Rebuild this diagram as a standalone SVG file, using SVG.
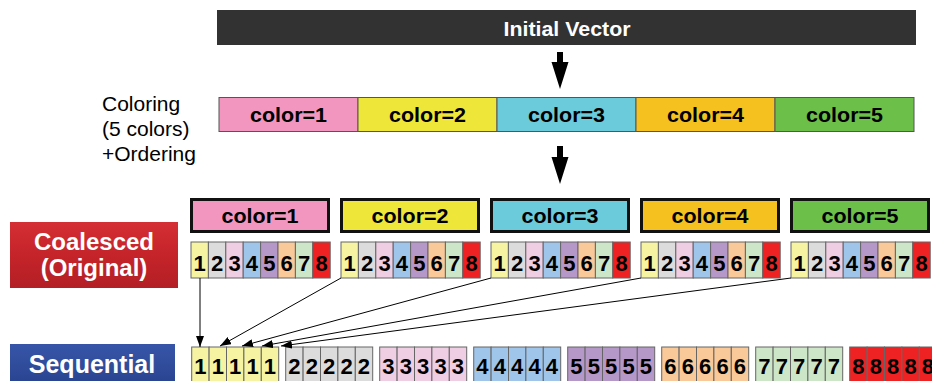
<svg xmlns="http://www.w3.org/2000/svg" width="932" height="381" viewBox="0 0 932 381">
<defs>
<linearGradient id="gRed" x1="0" y1="0" x2="0" y2="1"><stop offset="0" stop-color="#d42f34"/><stop offset="0.5" stop-color="#c4242a"/><stop offset="1" stop-color="#b31f25"/></linearGradient>
<linearGradient id="gBlue" x1="0" y1="0" x2="0" y2="1"><stop offset="0" stop-color="#3755a8"/><stop offset="1" stop-color="#28438f"/></linearGradient>
<marker id="ah" markerUnits="userSpaceOnUse" markerWidth="11" markerHeight="8" refX="11" refY="4" orient="auto"><path d="M0,0 L11,4 L0,8 z" fill="#000"/></marker>
</defs>
<style>
text{font-family:"Liberation Sans",Arial,sans-serif}
.lbl{font-size:20px;font-weight:bold;fill:#000;text-anchor:middle}
.dg{font-size:22px;font-weight:bold;fill:#000;text-anchor:middle}
.cell{stroke:#666;stroke-width:1}
.c1{fill:#f6f3a3}.c2{fill:#dcdcdc}.c3{fill:#efcde3}.c4{fill:#9fc5ea}.c5{fill:#b597c8}.c6{fill:#f9c999}.c7{fill:#cde6c8}.c8{fill:#ee2222}
.seg{stroke:#555;stroke-width:1}
.box{stroke:#111;stroke-width:3}
.conn{stroke:#000;stroke-width:1;fill:none;marker-end:url(#ah)}
.white{fill:#fff;font-weight:bold;text-anchor:middle}
</style>

<g id="initial-vector">
<rect x="217" y="10" width="699" height="35" fill="#323232"/>
<text x="567" y="36" class="white" font-size="21" textLength="127" lengthAdjust="spacingAndGlyphs">Initial Vector</text>
</g>

<g id="coloring-label">
<text x="102" y="111" font-size="21" fill="#000">Coloring</text>
<text x="102" y="136" font-size="21" fill="#000">(5 colors)</text>
<text x="102" y="161" font-size="21" fill="#000">+Ordering</text>
</g>

<g id="color-bar">
<rect class="seg" x="219" y="97.5" width="139" height="34" fill="#f296c0"/>
<rect class="seg" x="358" y="97.5" width="139" height="34" fill="#efe63a"/>
<rect class="seg" x="497" y="97.5" width="139" height="34" fill="#6ccbda"/>
<rect class="seg" x="636" y="97.5" width="139" height="34" fill="#f5c11f"/>
<rect class="seg" x="775" y="97.5" width="139" height="34" fill="#6cbf48"/>
<text class="lbl" x="288.5" y="122" textLength="77" lengthAdjust="spacingAndGlyphs">color=1</text>
<text class="lbl" x="427.5" y="122" textLength="77" lengthAdjust="spacingAndGlyphs">color=2</text>
<text class="lbl" x="566.5" y="122" textLength="77" lengthAdjust="spacingAndGlyphs">color=3</text>
<text class="lbl" x="705.5" y="122" textLength="77" lengthAdjust="spacingAndGlyphs">color=4</text>
<text class="lbl" x="844.5" y="122" textLength="77" lengthAdjust="spacingAndGlyphs">color=5</text>
</g>

<g id="big-arrows">
<polygon points="557,52 563,52 563,62 568.5,62 560,89 551.5,62 557,62" fill="#000"/>
<polygon points="557,146 563,146 563,157 568.5,157 560,184 551.5,157 557,157" fill="#000"/>
</g>

<g id="color-boxes">
<rect class="box" x="191.5" y="199.5" width="137" height="32" fill="#f296c0"/>
<rect class="box" x="341.5" y="199.5" width="137" height="32" fill="#efe63a"/>
<rect class="box" x="491.5" y="199.5" width="137" height="32" fill="#6ccbda"/>
<rect class="box" x="641.5" y="199.5" width="137" height="32" fill="#f5c11f"/>
<rect class="box" x="791.5" y="199.5" width="137" height="32" fill="#6cbf48"/>
<text class="lbl" x="260" y="222.5" textLength="77" lengthAdjust="spacingAndGlyphs">color=1</text>
<text class="lbl" x="410" y="222.5" textLength="77" lengthAdjust="spacingAndGlyphs">color=2</text>
<text class="lbl" x="560" y="222.5" textLength="77" lengthAdjust="spacingAndGlyphs">color=3</text>
<text class="lbl" x="710" y="222.5" textLength="77" lengthAdjust="spacingAndGlyphs">color=4</text>
<text class="lbl" x="860" y="222.5" textLength="77" lengthAdjust="spacingAndGlyphs">color=5</text>
</g>

<g id="coalesced-label">
<rect x="10" y="222" width="168" height="66" fill="url(#gRed)"/>
<text x="94" y="250" class="white" font-size="24">Coalesced</text>
<text x="94" y="276" class="white" font-size="24">(Original)</text>
</g>

<g id="coalesced-group-1" transform="translate(191,0)">
<rect class="cell c1" x="0" y="242" width="17.4" height="36"/><rect class="cell c2" x="17.4" y="242" width="17.4" height="36"/><rect class="cell c3" x="34.8" y="242" width="17.4" height="36"/><rect class="cell c4" x="52.2" y="242" width="17.4" height="36"/><rect class="cell c5" x="69.6" y="242" width="17.4" height="36"/><rect class="cell c6" x="87" y="242" width="17.4" height="36"/><rect class="cell c7" x="104.4" y="242" width="17.4" height="36"/><rect class="cell c8" x="121.8" y="242" width="17.4" height="36"/>
<text class="dg" x="8.7" y="271">1</text><text class="dg" x="26.1" y="271">2</text><text class="dg" x="43.5" y="271">3</text><text class="dg" x="60.9" y="271">4</text><text class="dg" x="78.3" y="271">5</text><text class="dg" x="95.7" y="271">6</text><text class="dg" x="113.1" y="271">7</text><text class="dg" x="130.5" y="271">8</text>
</g>
<g id="coalesced-group-2" transform="translate(341,0)">
<rect class="cell c1" x="0" y="242" width="17.4" height="36"/><rect class="cell c2" x="17.4" y="242" width="17.4" height="36"/><rect class="cell c3" x="34.8" y="242" width="17.4" height="36"/><rect class="cell c4" x="52.2" y="242" width="17.4" height="36"/><rect class="cell c5" x="69.6" y="242" width="17.4" height="36"/><rect class="cell c6" x="87" y="242" width="17.4" height="36"/><rect class="cell c7" x="104.4" y="242" width="17.4" height="36"/><rect class="cell c8" x="121.8" y="242" width="17.4" height="36"/>
<text class="dg" x="8.7" y="271">1</text><text class="dg" x="26.1" y="271">2</text><text class="dg" x="43.5" y="271">3</text><text class="dg" x="60.9" y="271">4</text><text class="dg" x="78.3" y="271">5</text><text class="dg" x="95.7" y="271">6</text><text class="dg" x="113.1" y="271">7</text><text class="dg" x="130.5" y="271">8</text>
</g>
<g id="coalesced-group-3" transform="translate(491,0)">
<rect class="cell c1" x="0" y="242" width="17.4" height="36"/><rect class="cell c2" x="17.4" y="242" width="17.4" height="36"/><rect class="cell c3" x="34.8" y="242" width="17.4" height="36"/><rect class="cell c4" x="52.2" y="242" width="17.4" height="36"/><rect class="cell c5" x="69.6" y="242" width="17.4" height="36"/><rect class="cell c6" x="87" y="242" width="17.4" height="36"/><rect class="cell c7" x="104.4" y="242" width="17.4" height="36"/><rect class="cell c8" x="121.8" y="242" width="17.4" height="36"/>
<text class="dg" x="8.7" y="271">1</text><text class="dg" x="26.1" y="271">2</text><text class="dg" x="43.5" y="271">3</text><text class="dg" x="60.9" y="271">4</text><text class="dg" x="78.3" y="271">5</text><text class="dg" x="95.7" y="271">6</text><text class="dg" x="113.1" y="271">7</text><text class="dg" x="130.5" y="271">8</text>
</g>
<g id="coalesced-group-4" transform="translate(641,0)">
<rect class="cell c1" x="0" y="242" width="17.4" height="36"/><rect class="cell c2" x="17.4" y="242" width="17.4" height="36"/><rect class="cell c3" x="34.8" y="242" width="17.4" height="36"/><rect class="cell c4" x="52.2" y="242" width="17.4" height="36"/><rect class="cell c5" x="69.6" y="242" width="17.4" height="36"/><rect class="cell c6" x="87" y="242" width="17.4" height="36"/><rect class="cell c7" x="104.4" y="242" width="17.4" height="36"/><rect class="cell c8" x="121.8" y="242" width="17.4" height="36"/>
<text class="dg" x="8.7" y="271">1</text><text class="dg" x="26.1" y="271">2</text><text class="dg" x="43.5" y="271">3</text><text class="dg" x="60.9" y="271">4</text><text class="dg" x="78.3" y="271">5</text><text class="dg" x="95.7" y="271">6</text><text class="dg" x="113.1" y="271">7</text><text class="dg" x="130.5" y="271">8</text>
</g>
<g id="coalesced-group-5" transform="translate(791,0)">
<rect class="cell c1" x="0" y="242" width="17.4" height="36"/><rect class="cell c2" x="17.4" y="242" width="17.4" height="36"/><rect class="cell c3" x="34.8" y="242" width="17.4" height="36"/><rect class="cell c4" x="52.2" y="242" width="17.4" height="36"/><rect class="cell c5" x="69.6" y="242" width="17.4" height="36"/><rect class="cell c6" x="87" y="242" width="17.4" height="36"/><rect class="cell c7" x="104.4" y="242" width="17.4" height="36"/><rect class="cell c8" x="121.8" y="242" width="17.4" height="36"/>
<text class="dg" x="8.7" y="271">1</text><text class="dg" x="26.1" y="271">2</text><text class="dg" x="43.5" y="271">3</text><text class="dg" x="60.9" y="271">4</text><text class="dg" x="78.3" y="271">5</text><text class="dg" x="95.7" y="271">6</text><text class="dg" x="113.1" y="271">7</text><text class="dg" x="130.5" y="271">8</text>
</g>

<g id="sequential-label">
<rect x="10" y="344" width="165" height="42" fill="url(#gBlue)"/>
<text x="92" y="373" class="white" font-size="25">Sequential</text>
</g>

<g id="seq-1" transform="translate(191.7,0)">
<rect class="cell c1" x="0" y="347" width="17.4" height="36"/><rect class="cell c1" x="17.4" y="347" width="17.4" height="36"/><rect class="cell c1" x="34.8" y="347" width="17.4" height="36"/><rect class="cell c1" x="52.2" y="347" width="17.4" height="36"/><rect class="cell c1" x="69.6" y="347" width="17.4" height="36"/>
<text class="dg" x="8.7" y="374">1</text><text class="dg" x="26.1" y="374">1</text><text class="dg" x="43.5" y="374">1</text><text class="dg" x="60.9" y="374">1</text><text class="dg" x="78.3" y="374">1</text>
</g>
<g id="seq-2" transform="translate(285.7,0)">
<rect class="cell c2" x="0" y="347" width="17.4" height="36"/><rect class="cell c2" x="17.4" y="347" width="17.4" height="36"/><rect class="cell c2" x="34.8" y="347" width="17.4" height="36"/><rect class="cell c2" x="52.2" y="347" width="17.4" height="36"/><rect class="cell c2" x="69.6" y="347" width="17.4" height="36"/>
<text class="dg" x="8.7" y="374">2</text><text class="dg" x="26.1" y="374">2</text><text class="dg" x="43.5" y="374">2</text><text class="dg" x="60.9" y="374">2</text><text class="dg" x="78.3" y="374">2</text>
</g>
<g id="seq-3" transform="translate(379.7,0)">
<rect class="cell c3" x="0" y="347" width="17.4" height="36"/><rect class="cell c3" x="17.4" y="347" width="17.4" height="36"/><rect class="cell c3" x="34.8" y="347" width="17.4" height="36"/><rect class="cell c3" x="52.2" y="347" width="17.4" height="36"/><rect class="cell c3" x="69.6" y="347" width="17.4" height="36"/>
<text class="dg" x="8.7" y="374">3</text><text class="dg" x="26.1" y="374">3</text><text class="dg" x="43.5" y="374">3</text><text class="dg" x="60.9" y="374">3</text><text class="dg" x="78.3" y="374">3</text>
</g>
<g id="seq-4" transform="translate(473.7,0)">
<rect class="cell c4" x="0" y="347" width="17.4" height="36"/><rect class="cell c4" x="17.4" y="347" width="17.4" height="36"/><rect class="cell c4" x="34.8" y="347" width="17.4" height="36"/><rect class="cell c4" x="52.2" y="347" width="17.4" height="36"/><rect class="cell c4" x="69.6" y="347" width="17.4" height="36"/>
<text class="dg" x="8.7" y="374">4</text><text class="dg" x="26.1" y="374">4</text><text class="dg" x="43.5" y="374">4</text><text class="dg" x="60.9" y="374">4</text><text class="dg" x="78.3" y="374">4</text>
</g>
<g id="seq-5" transform="translate(567.7,0)">
<rect class="cell c5" x="0" y="347" width="17.4" height="36"/><rect class="cell c5" x="17.4" y="347" width="17.4" height="36"/><rect class="cell c5" x="34.8" y="347" width="17.4" height="36"/><rect class="cell c5" x="52.2" y="347" width="17.4" height="36"/><rect class="cell c5" x="69.6" y="347" width="17.4" height="36"/>
<text class="dg" x="8.7" y="374">5</text><text class="dg" x="26.1" y="374">5</text><text class="dg" x="43.5" y="374">5</text><text class="dg" x="60.9" y="374">5</text><text class="dg" x="78.3" y="374">5</text>
</g>
<g id="seq-6" transform="translate(661.7,0)">
<rect class="cell c6" x="0" y="347" width="17.4" height="36"/><rect class="cell c6" x="17.4" y="347" width="17.4" height="36"/><rect class="cell c6" x="34.8" y="347" width="17.4" height="36"/><rect class="cell c6" x="52.2" y="347" width="17.4" height="36"/><rect class="cell c6" x="69.6" y="347" width="17.4" height="36"/>
<text class="dg" x="8.7" y="374">6</text><text class="dg" x="26.1" y="374">6</text><text class="dg" x="43.5" y="374">6</text><text class="dg" x="60.9" y="374">6</text><text class="dg" x="78.3" y="374">6</text>
</g>
<g id="seq-7" transform="translate(755.7,0)">
<rect class="cell c7" x="0" y="347" width="17.4" height="36"/><rect class="cell c7" x="17.4" y="347" width="17.4" height="36"/><rect class="cell c7" x="34.8" y="347" width="17.4" height="36"/><rect class="cell c7" x="52.2" y="347" width="17.4" height="36"/><rect class="cell c7" x="69.6" y="347" width="17.4" height="36"/>
<text class="dg" x="8.7" y="374">7</text><text class="dg" x="26.1" y="374">7</text><text class="dg" x="43.5" y="374">7</text><text class="dg" x="60.9" y="374">7</text><text class="dg" x="78.3" y="374">7</text>
</g>
<g id="seq-8" transform="translate(849.7,0)">
<rect class="cell c8" x="0" y="347" width="17.4" height="36"/><rect class="cell c8" x="17.4" y="347" width="17.4" height="36"/><rect class="cell c8" x="34.8" y="347" width="17.4" height="36"/><rect class="cell c8" x="52.2" y="347" width="17.4" height="36"/><rect class="cell c8" x="69.6" y="347" width="17.4" height="36"/>
<text class="dg" x="8.7" y="374">8</text><text class="dg" x="26.1" y="374">8</text><text class="dg" x="43.5" y="374">8</text><text class="dg" x="60.9" y="374">8</text><text class="dg" x="78.3" y="374">8</text>
</g>

<g id="connectors">
<line class="conn" x1="200" y1="278" x2="200" y2="347"/>
<line class="conn" x1="341" y1="278" x2="220" y2="346"/>
<line class="conn" x1="491" y1="278" x2="242" y2="346"/>
<line class="conn" x1="641" y1="278" x2="262" y2="346"/>
<line class="conn" x1="791" y1="278" x2="281" y2="346"/>
</g>
</svg>
